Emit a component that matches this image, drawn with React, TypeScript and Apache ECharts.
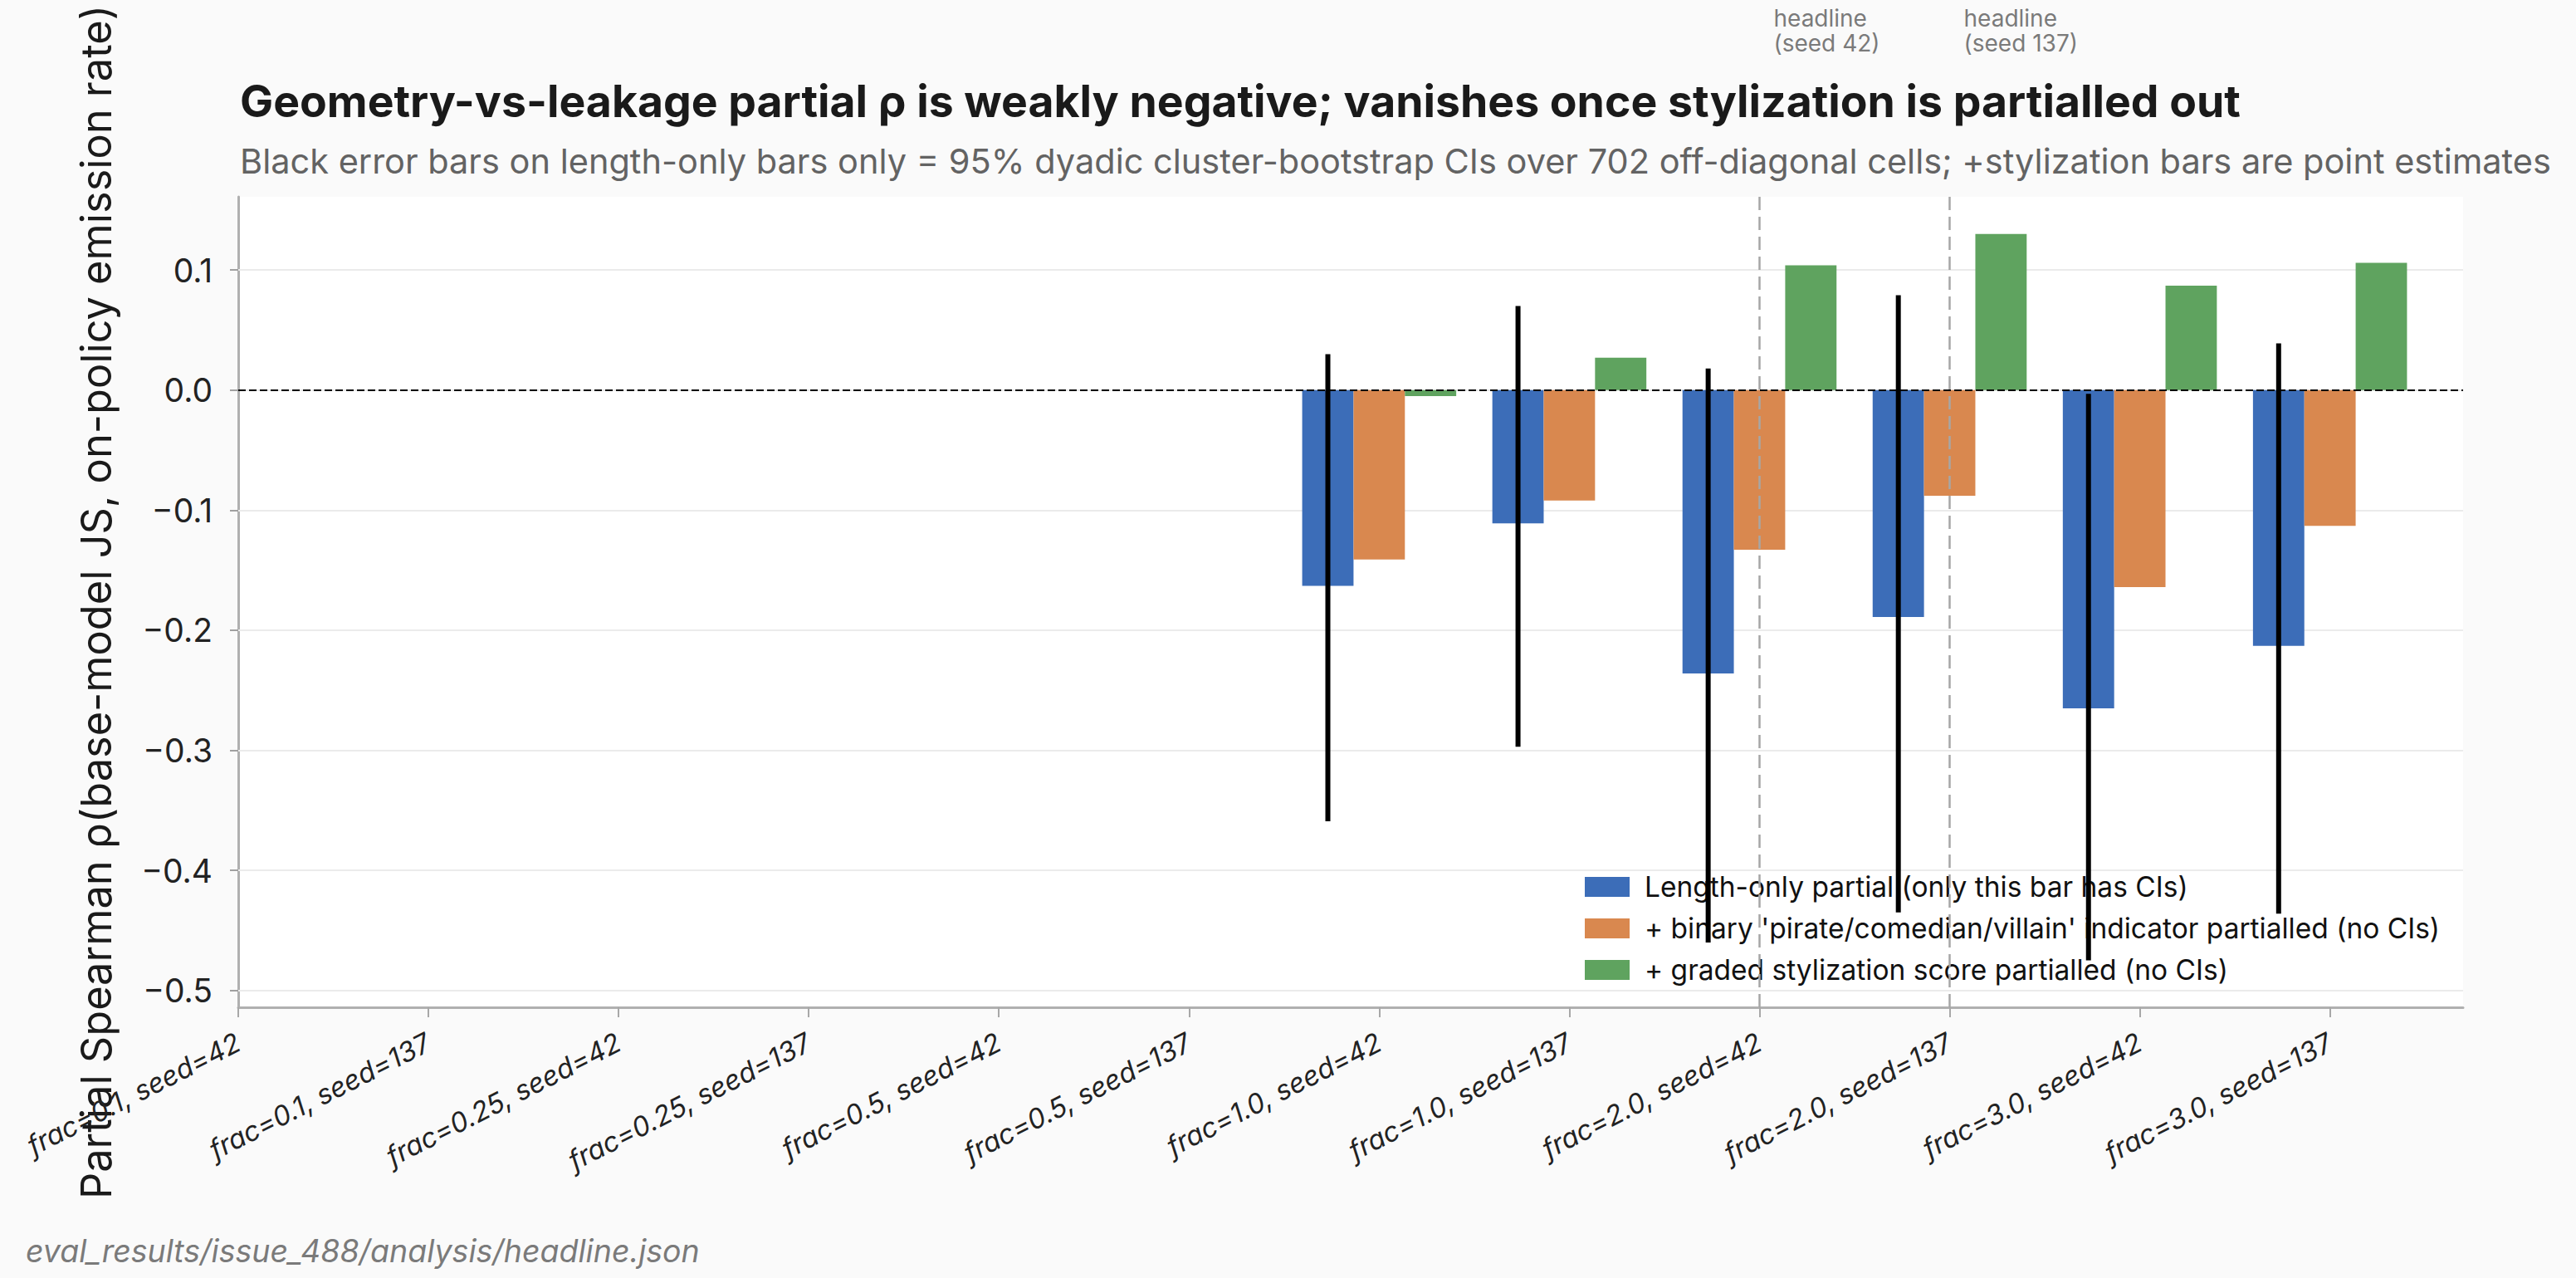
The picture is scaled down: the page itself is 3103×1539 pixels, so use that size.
import { useEffect, useRef } from 'react';
import * as echarts from 'echarts';

// Training-data fraction / seed combinations along the x axis
const categories = [
  'frac=0.1, seed=42',
  'frac=0.1, seed=137',
  'frac=0.25, seed=42',
  'frac=0.25, seed=137',
  'frac=0.5, seed=42',
  'frac=0.5, seed=137',
  'frac=1.0, seed=42',
  'frac=1.0, seed=137',
  'frac=2.0, seed=42',
  'frac=2.0, seed=137',
  'frac=3.0, seed=42',
  'frac=3.0, seed=137',
];

// Partial Spearman rho per configuration (null = not computed)
const lengthOnly = [null, null, null, null, null, null, -0.163, -0.111, -0.236, -0.189, -0.265, -0.213];
const binaryPartial = [null, null, null, null, null, null, -0.141, -0.092, -0.133, -0.088, -0.164, -0.113];
const gradedPartial = [null, null, null, null, null, null, -0.005, 0.027, 0.104, 0.130, 0.087, 0.106];

// 95% dyadic cluster-bootstrap CI for the length-only partial
const ciLow = [null, null, null, null, null, null, -0.359, -0.297, -0.460, -0.435, -0.475, -0.436];
const ciHigh = [null, null, null, null, null, null, 0.030, 0.070, 0.018, 0.079, -0.003, 0.039];

const yTicks = [-0.5, -0.4, -0.3, -0.2, -0.1, 0.0, 0.1];
const headlineIndex = [8, 9];
const headlineLabels = ['headline\n(seed 42)', 'headline\n(seed 137)'];

const seriesNames = [
  'Length-only partial (only this bar has CIs)',
  "+ binary 'pirate/comedian/villain' indicator partialled (no CIs)",
  '+ graded stylization score partialled (no CIs)',
];
const seriesColors = ['#3c6db8', '#d9884f', '#5fa35f'];
const seriesValues = [lengthOnly, binaryPartial, gradedPartial];

const WIDTH = 3103;
const HEIGHT = 1539;
const BAR_W = 0.27;
const OFFSETS = [-BAR_W, 0, BAR_W];
const FONT = 'Inter, "Noto Sans", sans-serif';

const fmtTick = (v: number) => {
  const r = Math.round(v * 10) / 10;
  if (Math.abs(r) < 1e-9) return '0.0';
  return (r < 0 ? '\u2212' : '') + Math.abs(r).toFixed(1);
};

function barSeries(k: number, extra: any) {
  const data = seriesValues[k]
    .map((v, i) => (v === null ? null : [i, v]))
    .filter((d) => d !== null);
  return {
    name: seriesNames[k],
    type: 'custom',
    z: 2,
    itemStyle: { color: seriesColors[k] },
    encode: { x: 0, y: 1 },
    data,
    renderItem: (_params: any, api: any) => {
      const x = api.value(0) + OFFSETS[k];
      const y = api.value(1);
      const p0 = api.coord([x - BAR_W / 2, 0]);
      const p1 = api.coord([x + BAR_W / 2, y]);
      return {
        type: 'rect',
        shape: {
          x: p0[0],
          y: Math.min(p0[1], p1[1]),
          width: p1[0] - p0[0],
          height: Math.abs(p1[1] - p0[1]),
        },
        style: { fill: api.visual('color') },
      };
    },
    ...extra,
  };
}

export default function App() {
  const ref = useRef<HTMLDivElement>(null);

  useEffect(() => {
    if (!ref.current) return;
    const chart = echarts.init(ref.current, null, { renderer: 'svg' });

    const errorData = ciLow
      .map((lo, i) => (lo === null ? null : [i, lo, ciHigh[i]]))
      .filter((d) => d !== null);

    const option: any = {
      animation: false,
      backgroundColor: '#fafafa',
      grid: {
        left: 287,
        right: 136,
        top: 237,
        bottom: 326,
        show: true,
        backgroundColor: '#ffffff',
        borderWidth: 0,
      },
      legend: {
        data: seriesNames,
        orient: 'vertical',
        left: 1904,
        top: 1046,
        z: 3,
        icon: 'rect',
        itemWidth: 54,
        itemHeight: 24,
        itemGap: 16,
        selectedMode: false,
        textStyle: {
          fontFamily: FONT,
          fontSize: 33.5,
          color: '#111111',
          padding: [0, 0, 0, 13],
        },
      },
      xAxis: {
        type: 'value',
        min: 0,
        max: 11.7,
        axisLine: { show: true, onZero: false, lineStyle: { color: '#b0b0b0', width: 3 } },
        axisTick: {
          show: true,
          customValues: categories.map((_, i) => i),
          length: 12,
          lineStyle: { color: '#a8a8a8', width: 2 },
        },
        axisLabel: {
          customValues: categories.map((_, i) => i),
          formatter: (v: number) => categories[Math.round(v)] ?? '',
          rotate: 27,
          margin: 40,
          fontFamily: FONT,
          fontStyle: 'italic',
          fontSize: 33,
          color: '#222222',
        },
        splitLine: { show: false },
      },
      yAxis: {
        type: 'value',
        min: -0.514,
        max: 0.161,
        name: 'Partial Spearman \u03c1(base-model JS, on-policy emission rate)',
        nameLocation: 'middle',
        nameRotate: 90,
        nameGap: 146,
        nameTextStyle: { fontFamily: FONT, fontSize: 50.5, color: '#1a1a1a' },
        axisLine: { show: true, onZero: false, lineStyle: { color: '#b0b0b0', width: 3 } },
        axisTick: {
          show: true,
          customValues: yTicks,
          length: 10,
          lineStyle: { color: '#a0a0a0', width: 2 },
        },
        axisLabel: {
          customValues: yTicks,
          formatter: fmtTick,
          margin: 31,
          fontFamily: FONT,
          fontSize: 39,
          color: '#222222',
        },
        splitLine: { show: false },
      },
      series: [
        barSeries(0, {
          markLine: {
            z: 1,
            silent: true,
            symbol: 'none',
            label: { show: false },
            lineStyle: { color: '#ebebeb', width: 2, type: 'solid' },
            data: yTicks.map((v) => ({ yAxis: v })),
          },
        }),
        barSeries(1, {
          markLine: {
            z: 6,
            silent: true,
            symbol: 'none',
            label: { show: false },
            lineStyle: { color: '#000000', width: 2, type: [9, 4] },
            data: [{ yAxis: 0 }],
          },
        }),
        barSeries(2, {
          markLine: {
            z: 5,
            silent: true,
            symbol: 'none',
            label: { show: false },
            lineStyle: { color: '#a6a6a6', width: 2.5, type: [16, 8] },
            data: headlineIndex.map((i) => ({ xAxis: i })),
          },
        }),
        {
          name: 'CI',
          type: 'custom',
          z: 7,
          encode: { x: 0, y: [1, 2] },
          data: errorData,
          renderItem: (_params: any, api: any) => {
            const x = api.value(0) + OFFSETS[0];
            const lo = api.coord([x, api.value(1)]);
            const hi = api.coord([x, api.value(2)]);
            return {
              type: 'line',
              shape: { x1: lo[0], y1: lo[1], x2: hi[0], y2: hi[1] },
              style: { stroke: '#000000', lineWidth: 6 },
            };
          },
        },
      ],
    };

    chart.setOption(option);

    const toX = (i: number) => chart.convertToPixel({ gridIndex: 0 }, [i, 0])[0];

    chart.setOption({
      graphic: [
        {
          type: 'text',
          x: 289,
          y: 121,
          style: {
            text: 'Geometry-vs-leakage partial \u03c1 is weakly negative; vanishes once stylization is partialled out',
            fontFamily: FONT,
            fontWeight: 'bold',
            fontSize: 53.5,
            fill: '#1a1a1a',
            textVerticalAlign: 'middle',
          },
        },
        {
          type: 'text',
          x: 289,
          y: 194,
          style: {
            text: 'Black error bars on length-only bars only = 95% dyadic cluster-bootstrap CIs over 702 off-diagonal cells; +stylization bars are point estimates',
            fontFamily: FONT,
            fontSize: 41.5,
            fill: '#636363',
            textVerticalAlign: 'middle',
          },
        },
        ...headlineIndex.map((i, k) => ({
          type: 'text',
          x: toX(i) + 17,
          y: 7,
          style: {
            text: headlineLabels[k],
            fontFamily: FONT,
            fontSize: 28,
            lineHeight: 30,
            fill: '#7a7a7a',
            textVerticalAlign: 'top',
          },
        })),
        {
          type: 'text',
          x: 31,
          y: 1506,
          style: {
            text: 'eval_results/issue_488/analysis/headline.json',
            fontFamily: FONT,
            fontStyle: 'italic',
            fontSize: 37.5,
            fill: '#7a7a7a',
            textVerticalAlign: 'middle',
          },
        },
      ],
    });

    return () => chart.dispose();
  }, []);

  return (
    <div
      ref={ref}
      style={{ position: 'fixed', left: 0, top: 0, width: WIDTH, height: HEIGHT, background: '#fafafa' }}
    />
  );
}
